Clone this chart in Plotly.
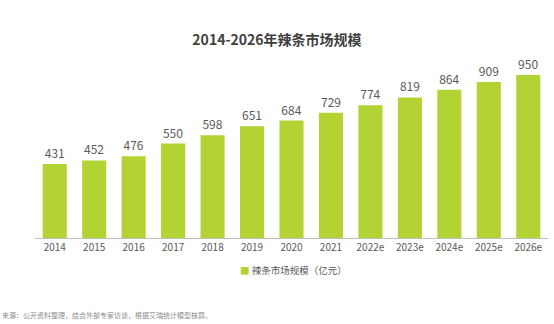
import plotly.graph_objects as go

years = ["2014", "2015", "2016", "2017", "2018", "2019", "2020", "2021",
         "2022e", "2023e", "2024e", "2025e", "2026e"]
values = [431, 452, 476, 550, 598, 651, 684, 729, 774, 819, 864, 909, 950]
series_name = "辣条市场规模（亿元）"
title = "2014-2026年辣条市场规模"
source = "来源：公开资料整理，结合外部专家访谈，根据艾瑞统计模型核算。"

FONT = "Noto Sans CJK SC, Open Sans, sans-serif"
GREEN = "#B3D234"

fig = go.Figure()
fig.add_trace(go.Bar(
    x=years, y=values, name=series_name,
    marker=dict(color=GREEN, line=dict(width=0)),
    text=[str(v) for v in values], textposition="outside",
    textfont=dict(size=12, color="#595959", family=FONT),
    cliponaxis=False, showlegend=False,
))

fig.update_layout(
    width=554, height=324,
    margin=dict(l=35, r=6, t=60, b=86),
    paper_bgcolor="white", plot_bgcolor="white",
    bargap=0.39,
    font=dict(family=FONT, color="#595959"),
    title=dict(text="<b>" + title + "</b>", x=0.5, xanchor="center",
               y=1 - 40 / 324, yanchor="middle",
               font=dict(size=14, color="#404040", family=FONT)),
    xaxis=dict(type="category", showline=True, linecolor="#BFBFBF", linewidth=1,
               ticks="", tickfont=dict(size=10, color="#595959"), showgrid=False),
    yaxis=dict(range=[0, 1037], visible=False, showgrid=False),
    annotations=[
        dict(text="<span style='color:" + GREEN + "'>■</span> " + series_name,
             xref="paper", yref="paper", x=(293 - 35) / 513, xanchor="center",
             y=-(270 - 238) / 178, yanchor="middle", showarrow=False,
             font=dict(size=9.5, color="#595959")),
        dict(text=source, xref="paper", yref="paper",
             x=-35 / 513, xanchor="left", y=-(315 - 238) / 178, yanchor="middle",
             showarrow=False, font=dict(size=7, color="#8C8C8C")),
    ],
)

fig.write_html("out.html")
